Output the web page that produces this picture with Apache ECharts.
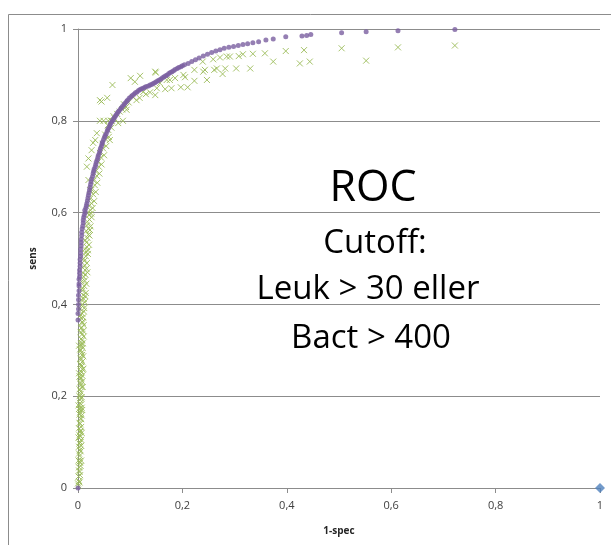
<!DOCTYPE html>
<html>
<head>
<meta charset="utf-8">
<script src="https://cdn.jsdelivr.net/npm/echarts@6/dist/echarts.min.js"></script>
<style>
html,body{margin:0;padding:0;background:#fff;}
#c{width:611px;height:545px;}
</style>
</head>
<body>
<div id="c"></div>
<script>
// x = 1-spec, y = sens
var xTicks = [0, 0.2, 0.4, 0.6, 0.8, 1];
var yTicks = [0, 0.2, 0.4, 0.6, 0.8, 1];

var rocCurve = [
[0,0],
[0.000,0.366],[0.001,0.39],[0.001,0.41],[0.002,0.43],[0.002,0.445],[0.003,0.46],[0.003,0.475],[0.004,0.49],[0.005,0.505],[0.005,0.52],[0.006,0.535],[0.007,0.55],[0.008,0.565],[0.010,0.578],[0.011,0.59],[0.014,0.60],[0.015,0.61],[0.017,0.62],[0.019,0.632],[0.021,0.643],[0.023,0.655],[0.025,0.667],[0.028,0.679],[0.030,0.69],[0.033,0.70],[0.035,0.71],[0.038,0.72],[0.041,0.73],[0.043,0.74],[0.046,0.75],[0.049,0.759],[0.052,0.768],[0.056,0.777],[0.059,0.785],[0.062,0.793],[0.066,0.80],[0.070,0.807],[0.074,0.814],[0.078,0.821],[0.083,0.828],[0.088,0.835],[0.093,0.842],[0.098,0.849],[0.104,0.855],[0.110,0.861],[0.116,0.866],[0.122,0.870],[0.128,0.873],[0.135,0.876],[0.141,0.879],[0.147,0.883],[0.153,0.887],[0.159,0.891],[0.165,0.896],[0.171,0.900],[0.177,0.905],[0.183,0.909],[0.190,0.914],[0.197,0.918],[0.204,0.922],[0.211,0.925],[0.218,0.929],[0.225,0.933],[0.232,0.937],[0.240,0.941],[0.248,0.945],[0.256,0.949],[0.264,0.952],[0.272,0.955],[0.280,0.958],[0.289,0.960],[0.298,0.962],[0.307,0.964],[0.316,0.966],[0.325,0.968],[0.335,0.970],[0.346,0.972],[0.360,0.976],[0.374,0.978],[0.398,0.983],[0.429,0.985],[0.438,0.986],[0.446,0.988],[0.505,0.992],[0.552,0.994],[0.613,0.996],[0.722,0.999],
[0.000,0.38],[0.001,0.40],[0.001,0.42],[0.002,0.44],[0.002,0.455],[0.003,0.468],[0.004,0.483],[0.004,0.498],[0.005,0.512],[0.006,0.528],[0.006,0.542],[0.007,0.557],[0.009,0.571],[0.010,0.584],[0.012,0.595],[0.013,0.605],[0.016,0.615],[0.018,0.626],[0.020,0.638],[0.022,0.649],[0.024,0.661],[0.026,0.673],[0.029,0.685],[0.031,0.695],[0.034,0.705],[0.037,0.715],[0.039,0.725],[0.042,0.735],[0.045,0.745],[0.047,0.754],[0.051,0.764],[0.054,0.772],[0.057,0.781],[0.061,0.789],[0.064,0.797],[0.068,0.804],[0.072,0.811],[0.076,0.818],[0.081,0.825],[0.085,0.831],[0.090,0.838],[0.095,0.845],[0.101,0.852],[0.107,0.858],[0.113,0.863],[0.119,0.868],[0.125,0.871],[0.131,0.875],[0.138,0.878],[0.144,0.881],[0.150,0.885],[0.156,0.889],[0.162,0.894],[0.168,0.898],[0.174,0.903],[0.180,0.907],[0.186,0.912],[0.193,0.916],[0.200,0.920]
];

var observed = [
[0.000,0.01],[0.001,0.005],[0.002,0.015],[0.001,0.025],[0.003,0.035],[0.002,0.045],[0.004,0.055],[0.001,0.06],[0.006,0.06],[0.003,0.07],[0.005,0.08],[0.002,0.09],[0.004,0.10],[0.006,0.105],[0.001,0.11],[0.003,0.115],[0.007,0.12],[0.005,0.125],[0.002,0.13],[0.004,0.14],[0.006,0.15],[0.003,0.16],[0.005,0.17],[0.008,0.17],[0.007,0.175],[0.001,0.18],[0.004,0.185],[0.006,0.195],[0.003,0.20],[0.005,0.21],[0.007,0.22],[0.009,0.22],[0.004,0.23],[0.006,0.24],[0.008,0.245],[0.002,0.25],[0.005,0.255],[0.010,0.26],[0.007,0.265],[0.004,0.27],[0.006,0.28],[0.008,0.29],[0.005,0.30],[0.002,0.31],[0.007,0.31],[0.009,0.315],[0.006,0.325],[0.011,0.33],[0.008,0.335],[0.005,0.34],[0.007,0.35],[0.009,0.36],[0.006,0.37],
[0.003,0.012],[0.004,0.028],[0.002,0.038],[0.005,0.048],[0.003,0.058],[0.002,0.075],[0.004,0.083],[0.006,0.092],[0.003,0.097],[0.005,0.112],[0.004,0.122],[0.006,0.133],[0.003,0.142],[0.005,0.152],[0.007,0.158],[0.004,0.165],[0.002,0.172],[0.006,0.182],[0.004,0.192],[0.007,0.198],[0.005,0.205],[0.003,0.215],[0.006,0.225],[0.008,0.232],[0.005,0.238],[0.003,0.243],[0.007,0.252],[0.009,0.258],[0.006,0.268],[0.008,0.275],[0.005,0.283],[0.010,0.287],[0.007,0.295],[0.004,0.302],[0.009,0.305],[0.006,0.315],[0.008,0.322],[0.010,0.342],[0.006,0.348],[0.011,0.355],[0.008,0.362],[0.010,0.372],[0.004,0.375],
[0.008,0.38],[0.011,0.385],[0.004,0.39],[0.009,0.40],[0.013,0.405],[0.006,0.41],[0.010,0.42],[0.015,0.425],[0.008,0.43],[0.012,0.44],[0.016,0.445],[0.007,0.45],[0.011,0.46],[0.014,0.465],[0.018,0.47],[0.009,0.48],[0.013,0.485],[0.017,0.49],[0.011,0.50],[0.015,0.505],[0.019,0.51],[0.013,0.52],[0.017,0.525],[0.021,0.53],[0.014,0.54],[0.018,0.545],[0.022,0.55],[0.016,0.56],[0.020,0.565],[0.024,0.57],[0.018,0.58],[0.022,0.585],[0.026,0.59],[0.019,0.60],[0.024,0.605],[0.028,0.61],
[0.012,0.392],[0.007,0.398],[0.011,0.412],[0.014,0.418],[0.009,0.435],[0.013,0.452],[0.010,0.468],[0.016,0.478],[0.012,0.495],[0.014,0.512],[0.019,0.518],[0.016,0.535],[0.020,0.552],[0.023,0.562],[0.017,0.572],[0.021,0.595],[0.025,0.598],
[0.021,0.615],[0.026,0.62],[0.031,0.625],[0.023,0.63],[0.029,0.64],[0.034,0.645],[0.026,0.65],[0.032,0.66],[0.037,0.665],[0.030,0.67],[0.036,0.68],[0.041,0.685],[0.034,0.69],[0.040,0.70],[0.045,0.705],[0.038,0.71],[0.044,0.72],[0.050,0.725],[0.042,0.73],[0.048,0.74],[0.054,0.745],[0.047,0.75],[0.053,0.76],[0.059,0.765],[0.052,0.77],[0.058,0.78],[0.064,0.785],[0.057,0.79],[0.063,0.80],[0.070,0.805],[0.068,0.81],[0.075,0.815],[0.080,0.82],[0.085,0.825],[0.092,0.83],[0.088,0.836],[0.097,0.84],
[0.023,0.649],[0.020,0.671],[0.017,0.70],[0.020,0.718],[0.026,0.736],[0.029,0.752],[0.036,0.773],[0.033,0.758],[0.042,0.80],[0.049,0.80],[0.058,0.80],[0.065,0.80],[0.086,0.80],[0.042,0.845],[0.045,0.842],[0.056,0.850],[0.066,0.878],[0.077,0.795],[0.061,0.758],[0.093,0.824],[0.105,0.852],[0.125,0.863],[0.101,0.893],[0.109,0.885],[0.119,0.898],[0.148,0.907],[0.157,0.882],[0.170,0.889],[0.112,0.845],[0.118,0.850],[0.130,0.858],[0.138,0.862],
[0.148,0.856],[0.149,0.905],[0.151,0.871],[0.167,0.869],[0.176,0.889],[0.179,0.871],[0.186,0.893],[0.197,0.873],[0.202,0.900],[0.205,0.895],[0.210,0.873],[0.223,0.911],[0.223,0.887],[0.239,0.929],[0.240,0.907],[0.243,0.911],[0.247,0.889],[0.259,0.934],[0.261,0.911],[0.266,0.914],[0.272,0.938],[0.277,0.902],[0.282,0.914],[0.285,0.940],[0.291,0.940],[0.303,0.914],[0.308,0.941],[0.316,0.945],[0.330,0.914],[0.335,0.946],[0.358,0.947],[0.374,0.929],[0.398,0.952],[0.425,0.925],[0.433,0.954],[0.444,0.929],[0.505,0.958],[0.552,0.931],[0.613,0.960],[0.722,0.964]
];

var refPoint = [[1, 0]];

var chart = echarts.init(document.getElementById('c'), null, {renderer: 'canvas'});
var fmt = function (v) { return String(v).replace('.', ','); };
var labelStyle = {color: '#404040', fontSize: 11, fontFamily: 'Open Sans, Arial, sans-serif'};
var bigFont = '"Open Sans", Arial, sans-serif';
chart.setOption({
  animation: false,
  backgroundColor: '#ffffff',
  grid: {left: 78, right: 11, top: 29, bottom: 57, containLabel: false},
  xAxis: {
    type: 'value', min: xTicks[0], max: xTicks[xTicks.length - 1], interval: xTicks[1] - xTicks[0],
    name: '1-spec', nameLocation: 'middle', nameGap: 38,
    nameTextStyle: {color: '#262626', fontSize: 10, fontWeight: 'bold', fontFamily: 'Open Sans, Arial, sans-serif'},
    axisLine: {show: true, lineStyle: {color: '#8c8c8c', width: 1}},
    axisTick: {show: true, length: 5, inside: false, lineStyle: {color: '#8c8c8c'}},
    axisLabel: Object.assign({formatter: fmt, margin: 12}, labelStyle),
    splitLine: {show: false}
  },
  yAxis: {
    type: 'value', min: yTicks[0], max: yTicks[yTicks.length - 1], interval: yTicks[1] - yTicks[0],
    name: 'sens', nameLocation: 'middle', nameGap: 40, nameRotate: 90,
    nameTextStyle: {color: '#262626', fontSize: 10, fontWeight: 'bold', fontFamily: 'Open Sans, Arial, sans-serif'},
    axisLine: {show: true, lineStyle: {color: '#8c8c8c', width: 1}},
    axisTick: {show: true, length: 5, inside: false, lineStyle: {color: '#8c8c8c'}},
    axisLabel: Object.assign({formatter: fmt, margin: 11}, labelStyle),
    splitLine: {show: true, lineStyle: {color: '#8c8c8c', width: 1}}
  },
  series: [
    {
      type: 'scatter', name: 'observed', data: observed, symbol: 'path://M0,0L10,10M10,0L0,10', symbolSize: 6,
      itemStyle: {color: 'none', borderColor: '#9bbb59', borderWidth: 1, opacity: 0.9}, z: 2
    },
    {
      type: 'scatter', name: 'roc', data: rocCurve, symbol: 'circle', symbolSize: 5,
      itemStyle: {color: '#7a5fa0'}, z: 3
    },
    {
      type: 'scatter', name: 'ref', data: refPoint, symbol: 'diamond', symbolSize: 10,
      itemStyle: {color: '#4f81bd'}, z: 4
    }
  ],
  graphic: [
    {type: 'rect', silent: true, z: -1, shape: {x: 8.5, y: 14.5, width: 800, height: 800}, style: {fill: 'none', stroke: '#8c8c8c', lineWidth: 1}},
    {type: 'text', silent: true, z: 10, style: {text: 'ROC', x: 373, y: 189, textAlign: 'center', textVerticalAlign: 'middle', fill: '#000', font: '43px ' + bigFont}},
    {type: 'text', silent: true, z: 10, style: {text: 'Cutoff:', x: 375, y: 244, textAlign: 'center', textVerticalAlign: 'middle', fill: '#000', font: '33px ' + bigFont}},
    {type: 'text', silent: true, z: 10, style: {text: 'Leuk > 30 eller', x: 368, y: 290, textAlign: 'center', textVerticalAlign: 'middle', fill: '#000', font: '33px ' + bigFont}},
    {type: 'text', silent: true, z: 10, style: {text: 'Bact > 400', x: 371, y: 339, textAlign: 'center', textVerticalAlign: 'middle', fill: '#000', font: '33px ' + bigFont}}
  ]
});
</script>
</body>
</html>
